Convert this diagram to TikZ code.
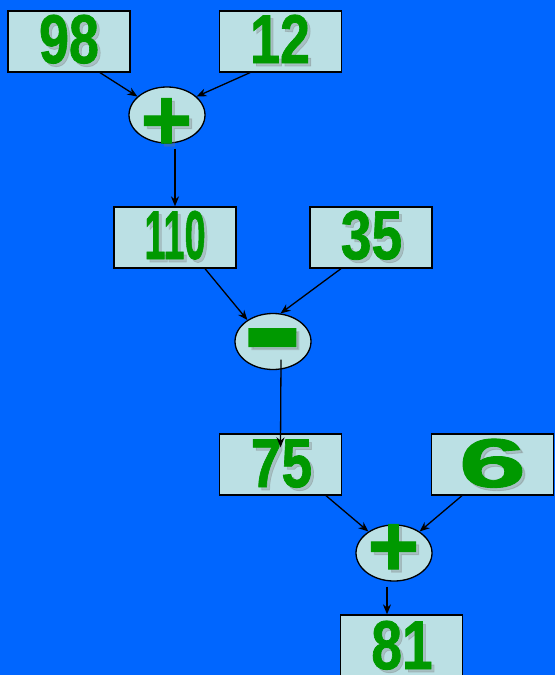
\documentclass[tikz,border=0pt]{standalone}
\usepackage{fontspec}
\usepackage{graphicx}
\usetikzlibrary{shapes.geometric,arrows.meta}
\newfontfamily\numfont[FakeBold=1.2]{Liberation Sans Bold}
\definecolor{bgblue}{RGB}{0,102,255}
\definecolor{boxfill}{RGB}{187,224,228}
\definecolor{numgreen}{RGB}{0,153,0}
\definecolor{shdgray}{RGB}{120,120,120}
\newcommand{\numtxt}[6]{% name, x, baseline y, xscale, font size, text
  \node[shd,font=\numfont\fontsize{#5}{#5}\selectfont] at (#2+3,#3+3) {\scalebox{#4}[1]{#6}};
  \node[num,font=\numfont\fontsize{#5}{#5}\selectfont] (#1) at (#2,#3) {\scalebox{#4}[1]{#6}};}
\begin{document}
\begin{tikzpicture}[x=1pt,y=-1pt,
  box/.style={draw=black,line width=1.3pt,fill=boxfill,minimum width=122pt,minimum height=61pt,inner sep=0pt},
  op/.style={ellipse,draw=black,line width=1.3pt,fill=boxfill,minimum width=76pt,minimum height=56pt,inner sep=0pt},
  num/.style={text=numgreen,inner sep=0pt,anchor=base},
  shd/.style={text=shdgray,opacity=0.3,inner sep=0pt,anchor=base},
  arr/.style={-{Stealth[length=10pt,width=8pt]},line width=1.3pt,draw=black}]
\fill[bgblue] (0,0) rectangle (555,675);
\useasboundingbox (0,0) rectangle (555,675);
\clip (0,0) rectangle (555,675);
% boxes
\node[box] (b98) at (69,41.5) {};
\node[box] (b12) at (280.5,41.5) {};
\node[op] (op1) at (167,115) {};
\node[box] (b110) at (175,237.5) {};
\node[box] (b35) at (371,237.5) {};
\node[op] (op2) at (273,341.5) {};
\node[box] (b75) at (280.5,464.5) {};
\node[box] (b6) at (492.5,464.5) {};
\node[op] (op3) at (394,553) {};
\node[box] (b81) at (401.5,645.5) {};
% texts
\numtxt{t98}{69}{63}{0.78}{69}{98}
\numtxt{t12}{280}{63}{0.78}{69}{12}
\numtxt{t110}{175}{259}{0.55}{69}{110}
\numtxt{t35}{371.5}{259}{0.8}{69}{35}
\numtxt{t75}{281.5}{487}{0.8}{69}{75}
\numtxt{t6}{492.5}{487}{1.75}{69}{6}
\numtxt{t81}{402}{669}{0.8}{69}{81}
\numtxt{p1}{166.5}{150}{1}{88}{+}
\numtxt{p3}{393.5}{576}{1}{88}{+}
\node[shd,font=\numfont\fontsize{120}{120}\selectfont] at (275.5,378) {\scalebox{1.5}[1.2]{-}};
\node[num,font=\numfont\fontsize{120}{120}\selectfont] (m2) at (272.5,375) {\scalebox{1.5}[1.2]{-}};
% connectors
\draw[arr] ([xshift=31pt]b98.south) -- (op1.148);
\draw[arr] ([xshift=-30.5pt]b12.south) -- (op1.32);
\draw[arr] ([yshift=-5pt]op1.south -| b110.north) -- (b110.north);
\draw[arr] ([xshift=30pt]b110.south) -- (op2.140);
\draw[arr] ([xshift=-30pt]b35.south) -- (op2.75);
\draw[arr] ([xshift=8pt,yshift=-18pt]op2.center) -- ([yshift=-14pt]b75.north);
\draw[arr] ([xshift=45.5pt]b75.south) -- (op3.140);
\draw[arr] ([xshift=-30.5pt]b6.south) -- (op3.40);
\draw[arr] ([xshift=-7pt,yshift=-5pt]op3.south) -- ([xshift=-14.5pt]b81.north);
\end{tikzpicture}
\end{document}
